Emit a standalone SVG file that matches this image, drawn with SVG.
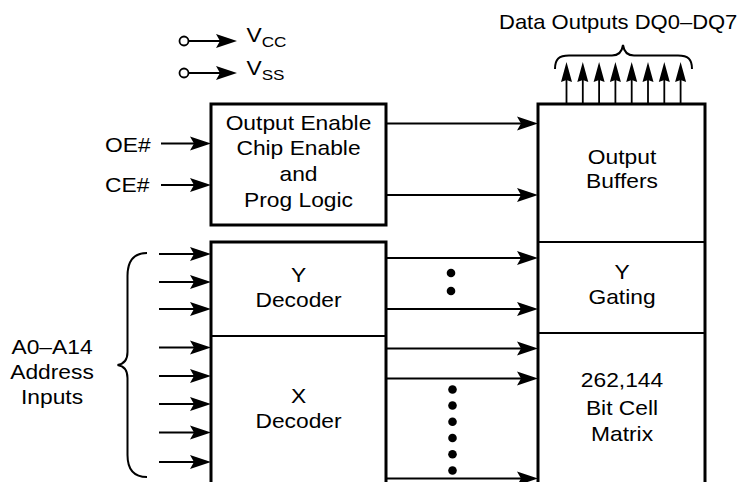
<svg xmlns="http://www.w3.org/2000/svg" width="750" height="482" viewBox="0 0 750 482">
<style>
.t{font-family:"Liberation Sans",Arial,sans-serif;font-size:20px;fill:#000;text-anchor:middle}
.s{text-anchor:start}
.box{fill:#fff;stroke:#000;stroke-width:3}
.div{stroke:#000;stroke-width:2;fill:none}
.ar{stroke:#000;stroke-width:2;fill:none}
.up{stroke:#000;stroke-width:1.8;fill:none}
.br{stroke:#000;stroke-width:2;fill:none}
</style>
<defs>
<path id="hR" d="M0,0 L-21,-7 L-17,0 L-21,7 Z" fill="#000"/>
<path id="hU" d="M0,0 L-5.5,20 L0,18 L5.5,20 Z" fill="#000"/>
</defs>
<rect width="750" height="482" fill="#fff"/>

<g id="connectors">
<circle cx="184" cy="41" r="4.5" fill="#fff" stroke="#000" stroke-width="1.8"/>
<line x1="188.5" y1="41" x2="220" y2="41" class="ar"/><use href="#hR" x="237" y="41"/>
<circle cx="184" cy="73" r="4.5" fill="#fff" stroke="#000" stroke-width="1.8"/>
<line x1="188.5" y1="73" x2="220" y2="73" class="ar"/><use href="#hR" x="237" y="73"/>
<line x1="161" y1="143.5" x2="195" y2="143.5" class="ar"/><use href="#hR" x="211" y="143.5"/>
<line x1="161" y1="185" x2="195" y2="185" class="ar"/><use href="#hR" x="211" y="185"/>
<line x1="386" y1="123.5" x2="522" y2="123.5" class="ar"/><use href="#hR" x="538" y="123.5"/>
<line x1="386" y1="195" x2="522" y2="195" class="ar"/><use href="#hR" x="538" y="195"/>
<line x1="159" y1="254" x2="195" y2="254" class="ar"/><use href="#hR" x="211" y="254"/>
<line x1="159" y1="282" x2="195" y2="282" class="ar"/><use href="#hR" x="211" y="282"/>
<line x1="159" y1="309" x2="195" y2="309" class="ar"/><use href="#hR" x="211" y="309"/>
<line x1="159" y1="347.5" x2="195" y2="347.5" class="ar"/><use href="#hR" x="211" y="347.5"/>
<line x1="159" y1="376" x2="195" y2="376" class="ar"/><use href="#hR" x="211" y="376"/>
<line x1="159" y1="404" x2="195" y2="404" class="ar"/><use href="#hR" x="211" y="404"/>
<line x1="159" y1="432.5" x2="195" y2="432.5" class="ar"/><use href="#hR" x="211" y="432.5"/>
<line x1="159" y1="462" x2="195" y2="462" class="ar"/><use href="#hR" x="211" y="462"/>
<line x1="386" y1="258" x2="522" y2="258" class="ar"/><use href="#hR" x="538" y="258"/>
<line x1="386" y1="309" x2="522" y2="309" class="ar"/><use href="#hR" x="538" y="309"/>
<line x1="386" y1="348.5" x2="522" y2="348.5" class="ar"/><use href="#hR" x="538" y="348.5"/>
<line x1="386" y1="378.5" x2="522" y2="378.5" class="ar"/><use href="#hR" x="538" y="378.5"/>
<line x1="386" y1="478.5" x2="522" y2="478.5" class="ar"/><use href="#hR" x="538" y="478.5"/>
<line x1="566.5" y1="105" x2="566.5" y2="78" class="up"/><use href="#hU" x="566.5" y="62"/>
<line x1="582.8" y1="105" x2="582.8" y2="78" class="up"/><use href="#hU" x="582.8" y="62"/>
<line x1="599.1" y1="105" x2="599.1" y2="78" class="up"/><use href="#hU" x="599.1" y="62"/>
<line x1="615.4" y1="105" x2="615.4" y2="78" class="up"/><use href="#hU" x="615.4" y="62"/>
<line x1="631.7" y1="105" x2="631.7" y2="78" class="up"/><use href="#hU" x="631.7" y="62"/>
<line x1="648" y1="105" x2="648" y2="78" class="up"/><use href="#hU" x="648" y="62"/>
<line x1="664.3" y1="105" x2="664.3" y2="78" class="up"/><use href="#hU" x="664.3" y="62"/>
<line x1="680.6" y1="105" x2="680.6" y2="78" class="up"/><use href="#hU" x="680.6" y="62"/>
<g fill="#000">
<circle cx="451" cy="273" r="4.3"/>
<circle cx="451" cy="291" r="4.3"/>
<circle cx="452.5" cy="389.5" r="4.3"/>
<circle cx="452.5" cy="405.5" r="4.3"/>
<circle cx="452.5" cy="421.8" r="4.3"/>
<circle cx="452.5" cy="438" r="4.3"/>
<circle cx="452.5" cy="454.3" r="4.3"/>
<circle cx="452.5" cy="470.5" r="4.3"/>
</g>
<path class="br" d="M555,69 C555,59 559,55.5 569,55.5 L612,55.5 C618,55.5 622,52 623,45 C624,52 628,55.5 634,55.5 L678,55.5 C688,55.5 692,59 692,69"/>
<path class="br" d="M147,253 C134,253 127.5,260 127.5,276 L127.5,352 C127.5,360 124,364 117.5,365 C124,366 127.5,370 127.5,378 L127.5,455 C127.5,470 134,477 147,477"/>
</g>

<g id="logic">
<rect class="box" x="211" y="104" width="175" height="121"/>
<text class="t" transform="translate(298.5,130) scale(1.14,1)">Output Enable</text>
<text class="t" transform="translate(298.5,155) scale(1.14,1)">Chip Enable</text>
<text class="t" transform="translate(298.5,181) scale(1.14,1)">and</text>
<text class="t" transform="translate(298.5,206.5) scale(1.14,1)">Prog Logic</text>
</g>

<g id="decoders">
<rect class="box" x="211" y="242" width="175" height="260"/>
<line class="div" x1="211" y1="336" x2="386" y2="336"/>
<text class="t" transform="translate(298.5,281.5) scale(1.14,1)">Y</text>
<text class="t" transform="translate(298.5,307) scale(1.14,1)">Decoder</text>
<text class="t" transform="translate(298.5,402.5) scale(1.14,1)">X</text>
<text class="t" transform="translate(298.5,428) scale(1.14,1)">Decoder</text>
</g>

<g id="memory">
<rect class="box" x="538" y="104" width="167" height="400"/>
<line class="div" x1="538" y1="242" x2="705" y2="242"/>
<line class="div" x1="538" y1="333" x2="705" y2="333"/>
<text class="t" transform="translate(622,163.5) scale(1.14,1)">Output</text>
<text class="t" transform="translate(622,188) scale(1.14,1)">Buffers</text>
<text class="t" transform="translate(622,278.5) scale(1.14,1)">Y</text>
<text class="t" transform="translate(622,304) scale(1.14,1)">Gating</text>
<text class="t" transform="translate(622,386.5) scale(1.14,1)">262,144</text>
<text class="t" transform="translate(622,415) scale(1.14,1)">Bit Cell</text>
<text class="t" transform="translate(622,440.5) scale(1.14,1)">Matrix</text>
</g>

<g id="labels">
<text class="t s" transform="translate(246.5,42) scale(1.14,1)">V<tspan font-size="15" dy="5">CC</tspan></text>
<text class="t s" transform="translate(246.5,74.5) scale(1.14,1)">V<tspan font-size="15" dy="5">SS</tspan></text>
<text class="t s" transform="translate(105,151.5) scale(1.14,1)">OE#</text>
<text class="t s" transform="translate(105,191.5) scale(1.14,1)">CE#</text>
<text class="t" transform="translate(52,354) scale(1.14,1)">A0–A14</text>
<text class="t" transform="translate(52,379) scale(1.14,1)">Address</text>
<text class="t" transform="translate(52,404) scale(1.14,1)">Inputs</text>
<text class="t s" transform="translate(499,28.5) scale(1.1,1)">Data Outputs DQ0–DQ7</text>
</g>
</svg>
